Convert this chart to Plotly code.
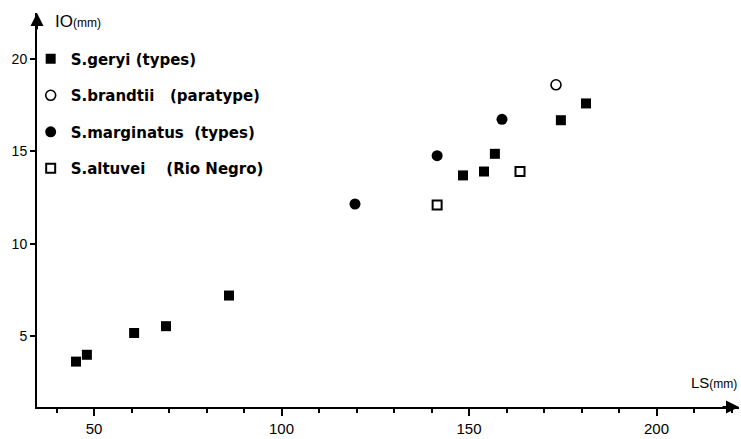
import plotly.graph_objects as go

# Data (LS mm, IO mm)
geryi_ls = [45.2, 48.1, 60.7, 69.2, 86.0, 148.4, 154.0, 156.9, 174.5, 181.2]
geryi_io = [3.61, 3.98, 5.16, 5.53, 7.19, 13.70, 13.91, 14.87, 16.69, 17.60]
brandtii_ls = [173.2]
brandtii_io = [18.61]
marginatus_ls = [119.6, 141.5, 158.8]
marginatus_io = [12.15, 14.77, 16.74]
altuvei_ls = [141.5, 163.6]
altuvei_io = [12.10, 13.91]

x_ticks = [50, 100, 150, 200]
y_ticks = [5, 10, 15, 20]

XR = [34.8, 222.0]
YR = [1.15, 22.5]

FONT = "Liberation Sans, Arial, sans-serif"
LFONT = "DejaVu Sans, sans-serif"

fig = go.Figure()
fig.add_trace(go.Scatter(x=geryi_ls, y=geryi_io, mode="markers", name="S.geryi (types)",
                         legendgroup="a",
                         marker=dict(symbol="square", size=10, color="black")))
fig.add_trace(go.Scatter(x=brandtii_ls, y=brandtii_io, mode="markers", name="S.brandtii   (paratype)",
                         legendgroup="b",
                         marker=dict(symbol="circle-open", size=10, color="black", line=dict(width=1.6))))
fig.add_trace(go.Scatter(x=marginatus_ls, y=marginatus_io, mode="markers", name="S.marginatus  (types)",
                         legendgroup="c",
                         marker=dict(symbol="circle", size=11, color="black")))
fig.add_trace(go.Scatter(x=altuvei_ls, y=altuvei_io, mode="markers", name="S.altuvei    (Rio Negro)",
                         legendgroup="d",
                         marker=dict(symbol="square-open", size=9, color="black", line=dict(width=2))))

fig.update_layout(
    width=741, height=439,
    margin=dict(l=37, r=2, t=13, b=26),
    paper_bgcolor="white", plot_bgcolor="white",
    font=dict(family=FONT, color="black", size=13),
    showlegend=True,
    legend=dict(x=-0.009, y=0.925, xanchor="left", yanchor="top",
                bgcolor="rgba(0,0,0,0)", tracegroupgap=14,
                font=dict(size=15, family=LFONT, color="black", weight=600)),
    xaxis=dict(range=XR, showgrid=False, zeroline=False,
               showline=True, linecolor="black", linewidth=2,
               tickmode="array", tickvals=x_ticks, ticktext=[str(v) for v in x_ticks],
               ticks="outside", ticklen=7, tickwidth=1.5, tickcolor="black",
               minor=dict(dtick=10, tick0=0, ticks="outside", ticklen=4, tickwidth=1.5, tickcolor="black"),
               tickfont=dict(size=15, family=FONT)),
    yaxis=dict(range=YR, showgrid=False, zeroline=False,
               showline=True, linecolor="black", linewidth=2,
               tickmode="array", tickvals=y_ticks, ticktext=[str(v) for v in y_ticks],
               ticks="outside", ticklen=5, tickwidth=1.5, tickcolor="black",
               tickfont=dict(size=14, family=FONT)),
)

# axis arrows
fig.add_annotation(x=XR[0], y=YR[1], xref="x", yref="y", ax=0, ay=18, axref="pixel", ayref="pixel",
                   showarrow=True, arrowhead=2, arrowsize=1.3, arrowwidth=2, arrowcolor="black", text="")
fig.add_annotation(x=XR[1], y=YR[0], xref="x", yref="y", ax=-18, ay=0, axref="pixel", ayref="pixel",
                   showarrow=True, arrowhead=2, arrowsize=1.3, arrowwidth=2, arrowcolor="black", text="")

# axis titles
fig.add_annotation(xref="paper", yref="paper", x=(53 - 37) / 702, y=1.0 + (13 - 22) / 400,
                   xanchor="left", yanchor="middle", showarrow=False,
                   text="<span style='font-size:17px'>IO</span><span style='font-size:12px'>(mm)</span>")
fig.add_annotation(xref="paper", yref="paper", x=1.0, y=(413 - 388) / 400,
                   xanchor="right", yanchor="middle", showarrow=False,
                   text="<span style='font-size:15px'>LS</span><span style='font-size:12px'>(mm)</span>")

fig.write_html("out.html")
